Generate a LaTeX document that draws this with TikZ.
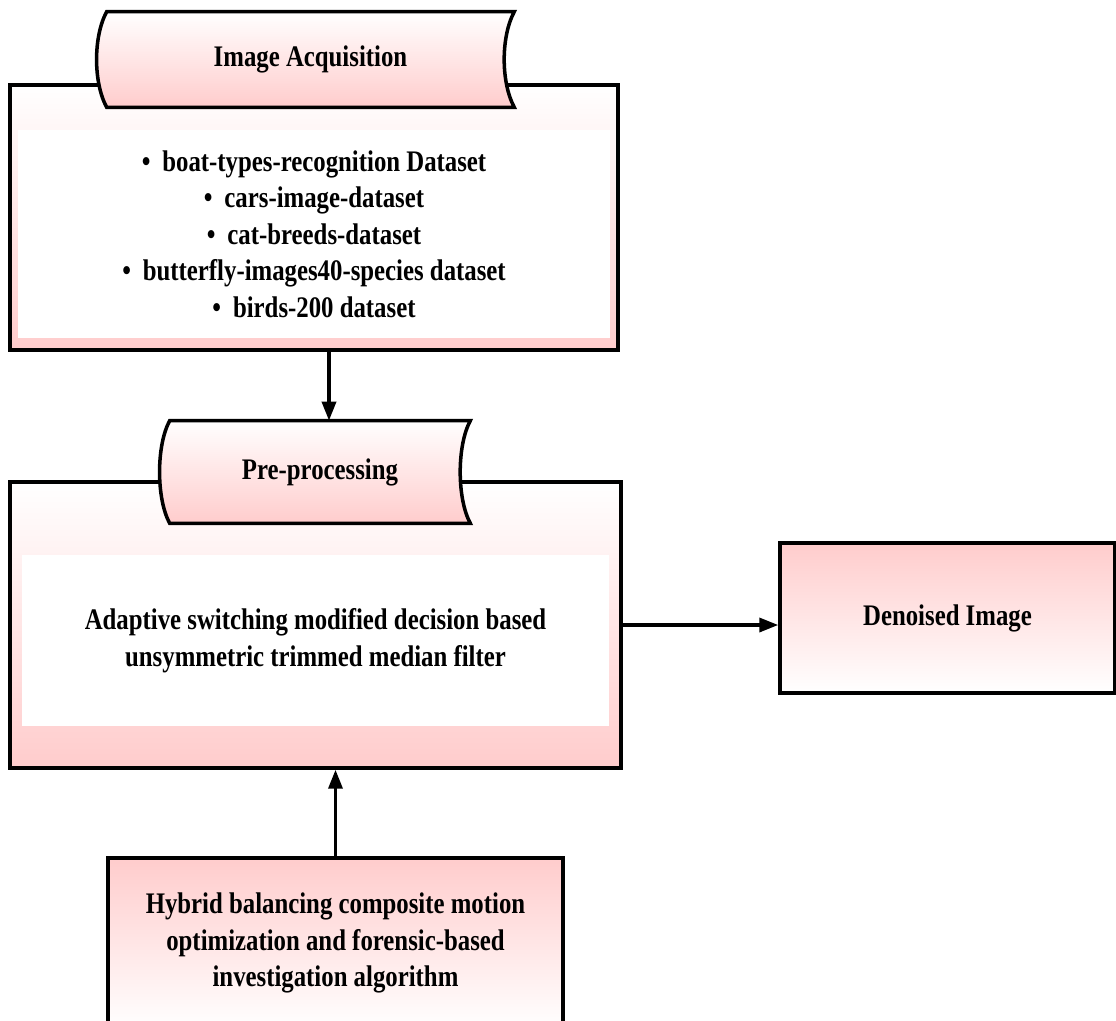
\documentclass[tikz,border=0pt]{standalone}
\usepackage{fontspec}
\setmainfont{Liberation Serif}[FakeStretch=0.83]
\usetikzlibrary{arrows.meta,calc}
\definecolor{pinkfill}{RGB}{255,204,204}
\tikzset{
  blackline/.style={draw=black, line width=2pt},
  boxdown/.style={blackline, rectangle, top color=white, bottom color=pinkfill},
  boxup/.style={blackline, rectangle, top color=pinkfill, bottom color=white},
  whitepanel/.style={rectangle, fill=white, inner sep=0pt},
  tapeslot/.style={rectangle, inner sep=0pt},
  txt/.style={font=\bfseries\fontsize{17}{20.8}\selectfont, align=center},
  arr/.style={line width=2pt, -{Triangle[length=0.38cm,width=0.28cm]}},
}
% stored-data outline round an empty node
\def\drawtape#1{\draw[blackline, top color=white, bottom color=pinkfill]
  (#1.north west) -- (#1.north east)
  .. controls +(-0.27cm,-0.5cm) and +(-0.27cm,0.5cm) .. (#1.south east)
  -- (#1.south west)
  .. controls +(-0.27cm,0.5cm) and +(-0.27cm,-0.5cm) .. (#1.north west) -- cycle;}

\begin{document}
\begin{tikzpicture}[x=0.02cm, y=-0.02cm]
	%%%%% START %%%%%
	\useasboundingbox (0,0) rectangle (1116,1021);
	
	% image acquisition
	\node[boxdown, minimum width=12.16cm, minimum height=5.3cm] (acqbox) at (314, 217.5) {};
	\node[whitepanel, minimum width=11.84cm, minimum height=4.16cm, txt] (acqlist) at (314, 234)
		{\textbullet\hspace{0.4em}boat-types-recognition Dataset\\
		 \textbullet\hspace{0.4em}cars-image-dataset\\
		 \textbullet\hspace{0.4em}cat-breeds-dataset\\
		 \textbullet\hspace{0.4em}butterfly-images40-species dataset\\
		 \textbullet\hspace{0.4em}birds-200 dataset};
	\node[tapeslot, minimum width=8.14cm, minimum height=1.9cm] (acqtape) at (310.5, 59.5) {};
	\drawtape{acqtape}
	\node[txt] (acqtitle) at (acqtape) {Image Acquisition};
	
	% pre-processing
	\node[boxdown, minimum width=12.22cm, minimum height=5.72cm] (prepbox) at (315.5, 625) {};
	\node[whitepanel, minimum width=11.74cm, minimum height=3.42cm, txt] (filter) at (315.5, 640.5)
		{Adaptive switching modified decision based\\[0.5pt]
		 unsymmetric trimmed median filter};
	\node[tapeslot, minimum width=6cm, minimum height=2.04cm] (preptape) at (320, 472) {};
	\drawtape{preptape}
	\node[txt] (preptitle) at (preptape) {Pre-processing};
	
	% output and optimiser
	\node[boxup, minimum width=6.7cm, minimum height=3cm, txt] (denoised) at (947.5, 618) {Denoised Image};
	\node[boxup, minimum width=9.1cm, minimum height=3.4cm, txt] (hybrid) at (335.5, 943)
		{Hybrid balancing composite motion\\
		 optimization and forensic-based\\
		 investigation algorithm};
	
	% arrows
	\coordinate (prepdrop) at ([xshift=0.18cm]preptape.north);
	\draw[arr] (acqbox.south -| prepdrop) -- (prepdrop);
	\draw[arr] (prepbox.east) -- (prepbox.east -| denoised.west);
	\draw[arr] (hybrid.north) -- (hybrid.north |- prepbox.south);
	
	%%%%% END %%%%%
\end{tikzpicture}
\end{document}
